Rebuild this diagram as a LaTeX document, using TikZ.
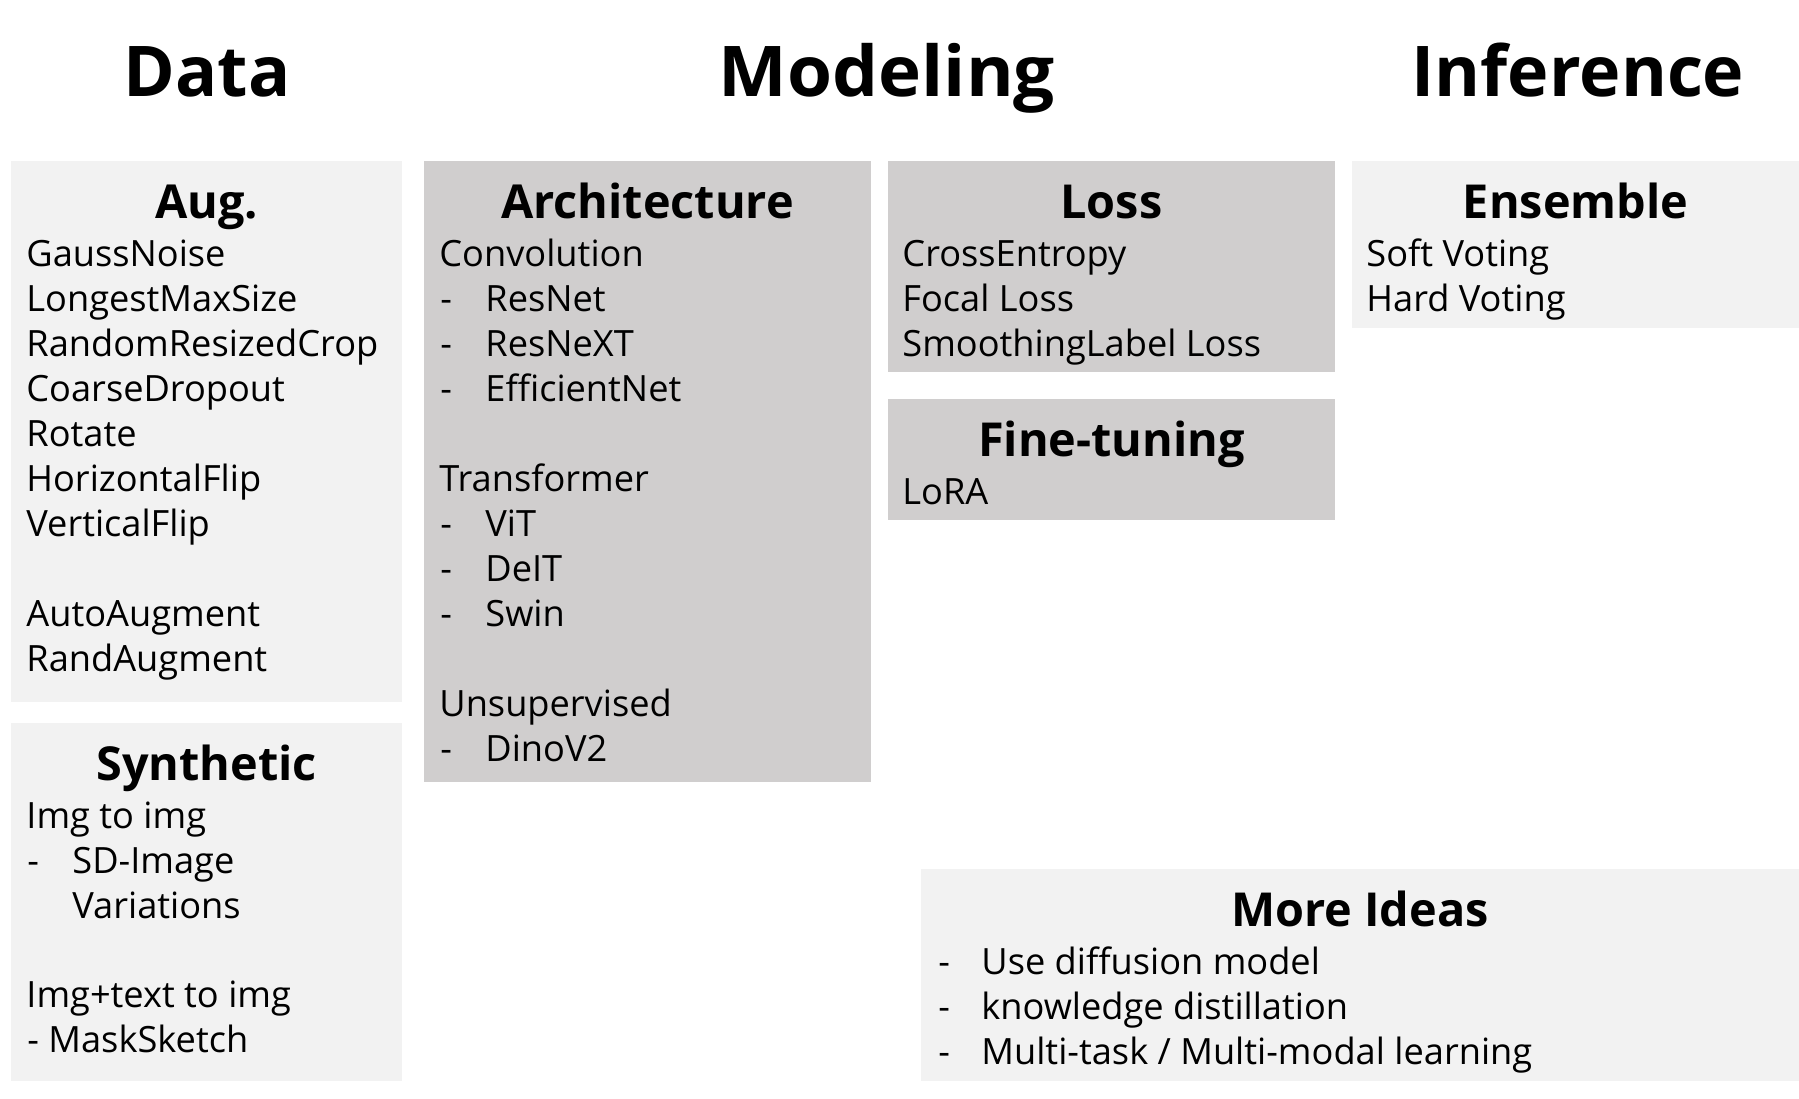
\documentclass[tikz,border=0pt]{standalone}
\usepackage{fontspec}
\setmainfont{Open Sans}
\definecolor{lightg}{HTML}{F2F2F2}
\definecolor{darkg}{HTML}{D0CECE}
\begin{document}
\begin{tikzpicture}[x=0.5pt,y=-0.5pt,
  body/.style={font=\fontsize{18.1}{22.5}\selectfont, inner sep=0pt, anchor=base west},
  head/.style={font=\fontsize{23.4}{28}\selectfont\bfseries, inner sep=0pt, anchor=base},
  ttl/.style={font=\fontsize{35}{42}\selectfont\bfseries, inner sep=0pt, anchor=base},
  lightbox/.style={fill=lightg},
  darkbox/.style={fill=darkg}]
\useasboundingbox[fill=white] (0,0) rectangle (1799,1098);

% titles
\node[ttl] (tdata) at (207,96) {Data};
\node[ttl, xscale=1.04] (tmodel) at (887,96) {Modeling};
\node[ttl] (tinf) at (1578,96) {Inference};

% boxes
\fill[lightbox] (11,161) rectangle (402,702);
\fill[lightbox] (11,723) rectangle (402,1081);
\fill[darkbox] (424,161) rectangle (871,782);
\fill[darkbox] (888,161) rectangle (1335,372);
\fill[darkbox] (888,399) rectangle (1335,520);
\fill[lightbox] (1352,161) rectangle (1799,328);
\fill[lightbox] (921,869) rectangle (1799,1081);

% Aug.
\node[head] (haug) at (206.5,218) {Aug.};
\node[body] (a1) at (26,266) {GaussNoise};
\node[body] (a2) at (26,311) {LongestMaxSize};
\node[body] (a3) at (26,356) {RandomResizedCrop};
\node[body] (a4) at (26,401) {CoarseDropout};
\node[body] (a5) at (26,446) {Rotate};
\node[body] (a6) at (26,491) {HorizontalFlip};
\node[body] (a7) at (26,536) {VerticalFlip};
\node[body] (a8) at (26,626) {AutoAugment};
\node[body] (a9) at (26,671) {RandAugment};

% Synthetic
\node[head] (hsyn) at (206.5,780) {Synthetic};
\node[body] (s1) at (26,828) {Img to img};
\node[body] (s2d) at (27,873) {-};
\node[body] (s2) at (72,873) {SD-Image};
\node[body] (s3) at (72,918) {Variations};
\node[body] (s4) at (26,1007) {Img+text to img};
\node[body] (s5) at (27,1052) {- MaskSketch};

% Architecture
\node[head] (harch) at (647.5,218) {Architecture};
\node[body] (r1) at (439,266) {Convolution};
\node[body] (r2d) at (440,311) {-};
\node[body] (r2) at (485,311) {ResNet};
\node[body] (r3d) at (440,356) {-};
\node[body] (r3) at (485,356) {ResNeXT};
\node[body] (r4d) at (440,401) {-};
\node[body] (r4) at (485,401) {EfficientNet};
\node[body] (r5) at (439,491) {Transformer};
\node[body] (r6d) at (440,536) {-};
\node[body] (r6) at (485,536) {ViT};
\node[body] (r7d) at (440,581) {-};
\node[body] (r7) at (485,581) {DeIT};
\node[body] (r8d) at (440,626) {-};
\node[body] (r8) at (485,626) {Swin};
\node[body] (r9) at (439,716) {Unsupervised};
\node[body] (r10d) at (440,761) {-};
\node[body] (r10) at (485,761) {DinoV2};

% Loss
\node[head] (hloss) at (1111.5,218) {Loss};
\node[body] (l1) at (902,266) {CrossEntropy};
\node[body] (l2) at (902,311) {Focal Loss};
\node[body] (l3) at (902,356) {SmoothingLabel Loss};

% Fine-tuning
\node[head] (hft) at (1111.5,456) {Fine-tuning};
\node[body] (f1) at (902,504) {LoRA};

% Ensemble
\node[head] (hens) at (1575.5,218) {Ensemble};
\node[body] (e1) at (1366,266) {Soft Voting};
\node[body] (e2) at (1366,311) {Hard Voting};

% More Ideas
\node[head] (hmore) at (1360,926) {More Ideas};
\node[body] (m1d) at (938,974) {-};
\node[body] (m1) at (981,974) {Use diffusion model};
\node[body] (m2d) at (938,1019) {-};
\node[body] (m2) at (981,1019) {knowledge distillation};
\node[body] (m3d) at (938,1064) {-};
\node[body] (m3) at (981,1064) {Multi-task / Multi-modal learning};
\end{tikzpicture}
\end{document}
